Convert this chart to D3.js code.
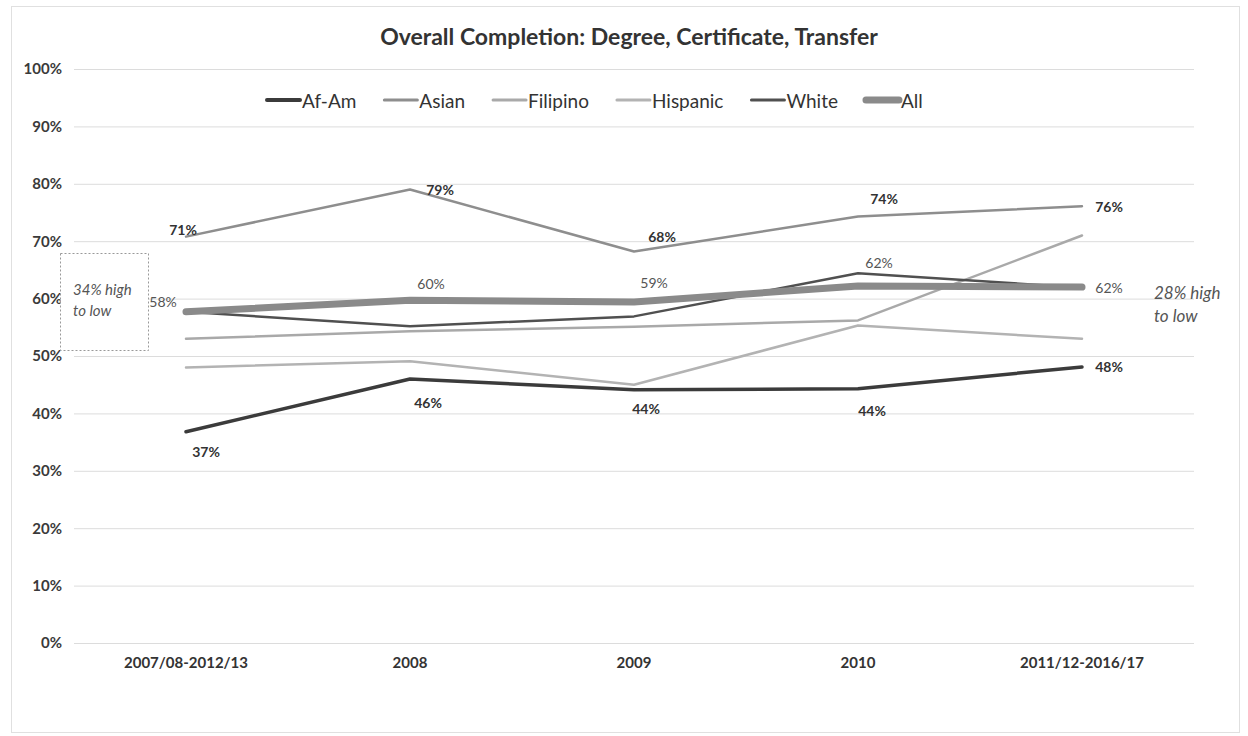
<!DOCTYPE html>
<html>
<head>
<meta charset="utf-8">
<script src="https://cdn.jsdelivr.net/npm/d3@7"></script>
<style>
  body { margin: 0; background: #fff; }
  svg text { font-family: Lato, "Open Sans", sans-serif; }
</style>
</head>
<body>
<svg width="1248" height="736"></svg>
<script>
// data
const categories = ["2007/08-2012/13", "2008", "2009", "2010", "2011/12-2016/17"];
const seriesNames = ["Af-Am", "Asian", "Filipino", "Hispanic", "White", "All"];

const afAm = [36.8, 46.0, 44.1, 44.3, 48.1];
const asian = [70.8, 79.0, 68.2, 74.3, 76.1];
const filipino = [53.0, 54.3, 55.1, 56.2, 71.0];
const hispanic = [48.0, 49.1, 45.0, 55.3, 53.0];
const white = [57.7, 55.2, 56.9, 64.4, 61.9];
const all = [57.7, 59.7, 59.4, 62.2, 62.0];

const yTicks = [0, 10, 20, 30, 40, 50, 60, 70, 80, 90, 100];

const title = "Overall Completion: Degree, Certificate, Transfer";
const noteLeft = ["34% high", "to low"];
const noteRight = ["28% high", "to low"];

const seriesData = [afAm, asian, filipino, hispanic, white, all];

// look of each series
const styles = {
    "Af-Am": { color: "#3b3b3b", width: 3.5 },
    "Asian": { color: "#8e8e8e", width: 2.5 },
    "Filipino": { color: "#a9a9a9", width: 2.5 },
    "Hispanic": { color: "#b3b3b3", width: 2.5 },
    "White": { color: "#505050", width: 2.5 },
    "All": { color: "#8a8a8a", width: 7 }
};

// which series carry data labels and where they sit around the point
const labelStyle = {
    "Asian": { weight: "bold", color: "#333", offsets: [[-3, -7], [30, 0], [28, -15], [26, -18], [27, 0]] },
    "All": { weight: "normal", color: "#555", offsets: [[-23, -10], [21, -17], [20, -20], [21, -23], [27, 0]] },
    "Af-Am": { weight: "bold", color: "#333", offsets: [[20, 20], [18, 24], [12, 19], [14, 22], [27, 0]] }
};

const svg = d3.select("svg");

const attr = {
    left: 74,
    right: 1194,
    top: 69,
    bottom: 643
};

// outer frame
svg.append("rect")
    .attr("x", 11.5).attr("y", 6.5)
    .attr("width", 1228).attr("height", 726)
    .attr("fill", "none")
    .attr("stroke", "#e0e0e0");

const scX = d3.scaleBand()
    .domain(categories)
    .range([attr.left, attr.right]);

const scY = d3.scaleLinear()
    .domain([0, 100])
    .range([attr.bottom, attr.top]);

const cx = d => scX(d) + scX.bandwidth() / 2;

// gridlines + y labels
const yAxis = d3.axisLeft(scY)
    .tickValues(yTicks)
    .tickSize(-(attr.right - attr.left))
    .tickFormat(d => d + "%");

svg.append("g")
    .attr("transform", `translate(${attr.left},0)`)
    .call(yAxis)
    .attr("font-family", null)
    .call(g => g.select(".domain").remove())
    .call(g => g.selectAll("line").attr("stroke", "#dcdcdc"))
    .call(g => g.selectAll("text")
        .attr("x", -12)
        .attr("fill", "#3a3a3a")
        .style("font-size", "15px")
        .style("font-weight", "bold"));

// x labels
const xAxis = d3.axisBottom(scX).tickSize(0);
svg.append("g")
    .attr("transform", `translate(0,${attr.bottom})`)
    .call(xAxis)
    .attr("font-family", null)
    .call(g => g.select(".domain").remove())
    .call(g => g.selectAll("text")
        .attr("y", 14)
        .attr("fill", "#333")
        .style("font-size", "15px")
        .style("font-weight", "bold"));

// title
svg.append("text")
    .attr("x", 629).attr("y", 45)
    .attr("text-anchor", "middle")
    .attr("fill", "#333")
    .style("font-size", "23px")
    .style("font-weight", "bold")
    .text(title);

// lines
const line = d3.line()
    .x((d, i) => cx(categories[i]))
    .y(d => scY(d));

seriesNames.forEach((name, k) => {
    svg.append("path")
        .datum(seriesData[k])
        .attr("fill", "none")
        .attr("stroke", styles[name].color)
        .attr("stroke-width", styles[name].width)
        .attr("stroke-linecap", "round")
        .attr("stroke-linejoin", "round")
        .attr("d", line);
});

// data labels
Object.keys(labelStyle).forEach(name => {
    const st = labelStyle[name];
    const vals = seriesData[seriesNames.indexOf(name)];
    svg.append("g")
        .selectAll("text")
        .data(vals)
        .enter()
        .append("text")
        .attr("x", (d, i) => cx(categories[i]) + st.offsets[i][0])
        .attr("y", (d, i) => scY(d) + st.offsets[i][1])
        .attr("text-anchor", "middle")
        .attr("dominant-baseline", "central")
        .attr("fill", st.color)
        .style("font-size", "14px")
        .style("font-weight", st.weight)
        .text(d => d3.format(".0f")(d) + "%");
});

// legend
const legend = svg.append("g");
let lx = 267;
seriesNames.forEach(name => {
    const st = styles[name];
    legend.append("line")
        .attr("x1", lx).attr("x2", lx + 33)
        .attr("y1", 100).attr("y2", 100)
        .attr("stroke", st.color)
        .attr("stroke-width", name === "All" ? 7 : (name === "Af-Am" ? 4 : 3))
        .attr("stroke-linecap", "round");
    const t = legend.append("text")
        .attr("x", lx + 35).attr("y", 100)
        .attr("dominant-baseline", "central")
        .attr("fill", "#333")
        .style("font-size", "19px")
        .text(name);
    lx += 35 + t.node().getComputedTextLength() + 28;
});

// side notes
svg.append("rect")
    .attr("x", 60.5).attr("y", 253.5)
    .attr("width", 88).attr("height", 97)
    .attr("fill", "#fff")
    .attr("stroke", "#999")
    .attr("stroke-dasharray", "2,2");

svg.append("text")
    .attr("x", 73).attr("y", 295)
    .attr("fill", "#555")
    .style("font-size", "15px")
    .style("font-style", "italic")
    .selectAll("tspan")
    .data(noteLeft)
    .enter()
    .append("tspan")
    .attr("x", 73)
    .attr("dy", (d, i) => i === 0 ? 0 : 21)
    .text(d => d);

svg.append("text")
    .attr("x", 1154).attr("y", 299)
    .attr("fill", "#555")
    .style("font-size", "17px")
    .style("font-style", "italic")
    .selectAll("tspan")
    .data(noteRight)
    .enter()
    .append("tspan")
    .attr("x", 1154)
    .attr("dy", (d, i) => i === 0 ? 0 : 23)
    .text(d => d);
</script>
</body>
</html>
